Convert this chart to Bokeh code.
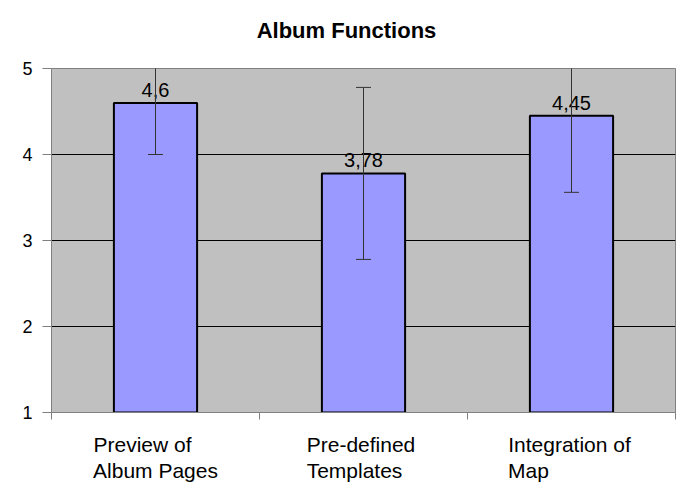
from bokeh.plotting import figure
from bokeh.models import FixedTicker, Range1d, ColumnDataSource, Label, LinearAxis
from bokeh.core.properties import value
from bokeh.embed import file_html
from bokeh.resources import INLINE

line1 = ["Preview of", "Pre-defined", "Integration of"]
line2 = ["Album Pages", "Templates", "Map"]
means = [4.6, 3.78, 4.45]
errors = [0.6, 1.0, 0.89]
value_labels = ["4,6", "3,78", "4,45"]
y_ticks = [1, 2, 3, 4, 5]
title = "Album Functions"

# styling: pixel shift of each label line from the category centre (lines left-aligned in a block)
line1_dx = [-13, -2.5, -2]
line2_dx = [0, -9, -43]
FONT = "Liberation Sans"
W, H = 681, 495
BL, BR, BT, BB = 51, 6, 68, 83

n = len(line1)
xs = [i + 0.5 for i in range(n)]
px_per_unit = (W - BL - BR) / n
lower = [m - e for m, e in zip(means, errors)]
upper = [m + e for m, e in zip(means, errors)]
src = ColumnDataSource(dict(x=xs, mean=means, lower=lower, upper=upper, label=value_labels))

p = figure(width=W, height=H, x_range=Range1d(0, n), y_range=Range1d(1, 5),
           output_backend="svg", toolbar_location=None,
           min_border_left=BL, min_border_right=BR, min_border_top=BT, min_border_bottom=BB)

p.background_fill_color = "#C0C0C0"
p.border_fill_color = "white"
p.outline_line_color = "#808080"
p.outline_line_width = 1

p.xgrid.grid_line_color = None
p.ygrid.ticker = FixedTicker(ticks=[2, 3, 4, 5])
p.ygrid.grid_line_color = "black"
p.ygrid.grid_line_width = 1

p.vbar(x="x", width=0.4, bottom=1, top="mean", source=src,
       fill_color="#9999FF", line_color="black", line_width=2)

p.text(x="x", y="mean", text="label", source=src, text_align="center", text_baseline="alphabetic",
       y_offset=-13, text_font=value(FONT), text_font_size="20px", text_color="black")

p.segment(x0="x", y0="lower", x1="x", y1="upper", source=src, line_color="#333333", line_width=1)
p.scatter(x="x", y="lower", source=src, marker="dash", size=15, line_color="#333333", line_width=1)
p.scatter(x="x", y="upper", source=src, marker="dash", size=15, line_color="#333333", line_width=1)

pos1 = [round(x + d / px_per_unit, 5) for x, d in zip(xs, line1_dx)]
pos2 = [round(x + d / px_per_unit, 5) for x, d in zip(xs, line2_dx)]

# x axis: first label line, ticks at category boundaries
xa = p.xaxis[0]
xa.ticker = FixedTicker(ticks=pos1, minor_ticks=list(range(n + 1)))
xa.major_label_overrides = {k: t for k, t in zip(pos1, line1)}
xa.major_tick_line_color = None
xa.major_tick_out = 0
xa.major_tick_in = 0
xa.minor_tick_line_color = "#808080"
xa.minor_tick_out = 7
xa.minor_tick_in = 0
xa.axis_line_color = "#808080"
xa.major_label_standoff = 13
xa.major_label_text_font = FONT
xa.major_label_text_font_size = "21px"
xa.major_label_text_color = "black"

# second label line
xa2 = LinearAxis(ticker=FixedTicker(ticks=pos2), major_label_overrides={k: t for k, t in zip(pos2, line2)},
                 axis_line_color=None, major_tick_line_color=None, minor_tick_line_color=None,
                 major_tick_out=0, major_tick_in=0, major_label_standoff=0,
                 major_label_text_font=FONT, major_label_text_font_size="21px",
                 major_label_text_color="black")
p.add_layout(xa2, "below")

# y axis
ya = p.yaxis[0]
ya.ticker = FixedTicker(ticks=y_ticks)
ya.minor_tick_line_color = None
ya.major_tick_line_color = "#808080"
ya.major_tick_out = 9
ya.major_tick_in = 0
ya.axis_line_color = "#808080"
ya.major_label_standoff = 10
ya.major_label_text_font = FONT
ya.major_label_text_font_size = "18px"
ya.major_label_text_color = "black"

# chart title, placed above the plot area
p.add_layout(Label(x=n / 2, y=5, text=title, x_offset=-17, y_offset=38,
                   text_align="center", text_baseline="alphabetic",
                   text_font=FONT, text_font_size="22px", text_font_style="bold",
                   text_color="black"), "above")

open("out.html", "w").write(file_html(p, INLINE))
